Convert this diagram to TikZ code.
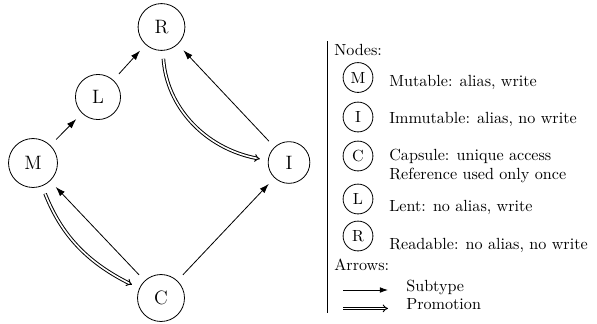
\documentclass[tikz,border=0pt]{standalone}
\usetikzlibrary{arrows.meta,bending}
\begin{document}
\begin{tikzpicture}[x=0.62pt,y=-0.62pt,
  capnode/.style={draw,circle,line width=0.5pt,inner sep=6pt,font=\large},
  keycap/.style={draw,circle,line width=0.5pt,inner sep=1pt,minimum size=18.5pt},
  subtype/.style={line width=0.5pt,-{Latex[length=6pt,width=4pt]},shorten >=5pt,shorten <=5pt},
  promoteline/.style={line width=0.6pt,double,double distance=1pt,-{Implies}},
  promote/.style={promoteline,shorten >=5pt,shorten <=5pt},
  keytext/.style={anchor=base west,inner sep=0pt}]
\useasboundingbox (0,0) rectangle (597,323);

% capability lattice
\node[capnode] (R) at (161.5,27) {R};
\node[capnode] (L) at (98,97) {L};
\node[capnode] (M) at (33,163) {M};
\node[capnode] (I) at (289,162.5) {I};
\node[capnode] (C) at (161,298) {C};

\draw[subtype] (M) -- (L);
\draw[subtype] (L) -- (R);
\draw[subtype] (I) -- (R);
\draw[subtype] (C) -- (I);
\draw[subtype] (C) -- (M);
\draw[promote] (R) to[bend right=40] (I);
\draw[promote] (M) to[bend right=22] (C);

% key
\draw[line width=0.5pt] (327,41) coordinate (top) -- (327,313) coordinate (bot);
\node[keytext] (hn) at (334,55) {Nodes:};
\node[keycap] (kM) at (358,77.5) {M};
\node[keytext] (tM) at (389,86) {Mutable: alias, write};
\node[keycap] (kI) at (358,117) {I};
\node[keytext] (tI) at (389,123) {Immutable: alias, no write};
\node[keycap] (kC) at (358,156) {C};
\node[keytext] (tC) at (389,160.5) {Capsule: unique access};
\node[keytext] (tC2) at (389,179.5) {Reference used only once};
\node[keycap] (kL) at (358,199) {L};
\node[keytext] (tL) at (389,211.5) {Lent: no alias, write};
\node[keycap] (kR) at (358,236) {R};
\node[keytext] (tR) at (389,249.5) {Readable: no alias, no write};
\node[keytext] (ha) at (334,270.5) {Arrows:};
\coordinate (s0) at (343,290);
\coordinate (s1) at (388,290);
\draw[line width=0.5pt,-{Latex[length=5pt,width=3.5pt]}] (s0) -- (s1);
\node[keytext] (ts) at (406,291) {Subtype};
\coordinate (p0) at (343,308.4);
\coordinate (p1) at (388,308.4);
\draw[promoteline] (p0) -- (p1);
\node[keytext] (tp) at (406,309) {Promotion};
\end{tikzpicture}
\end{document}
